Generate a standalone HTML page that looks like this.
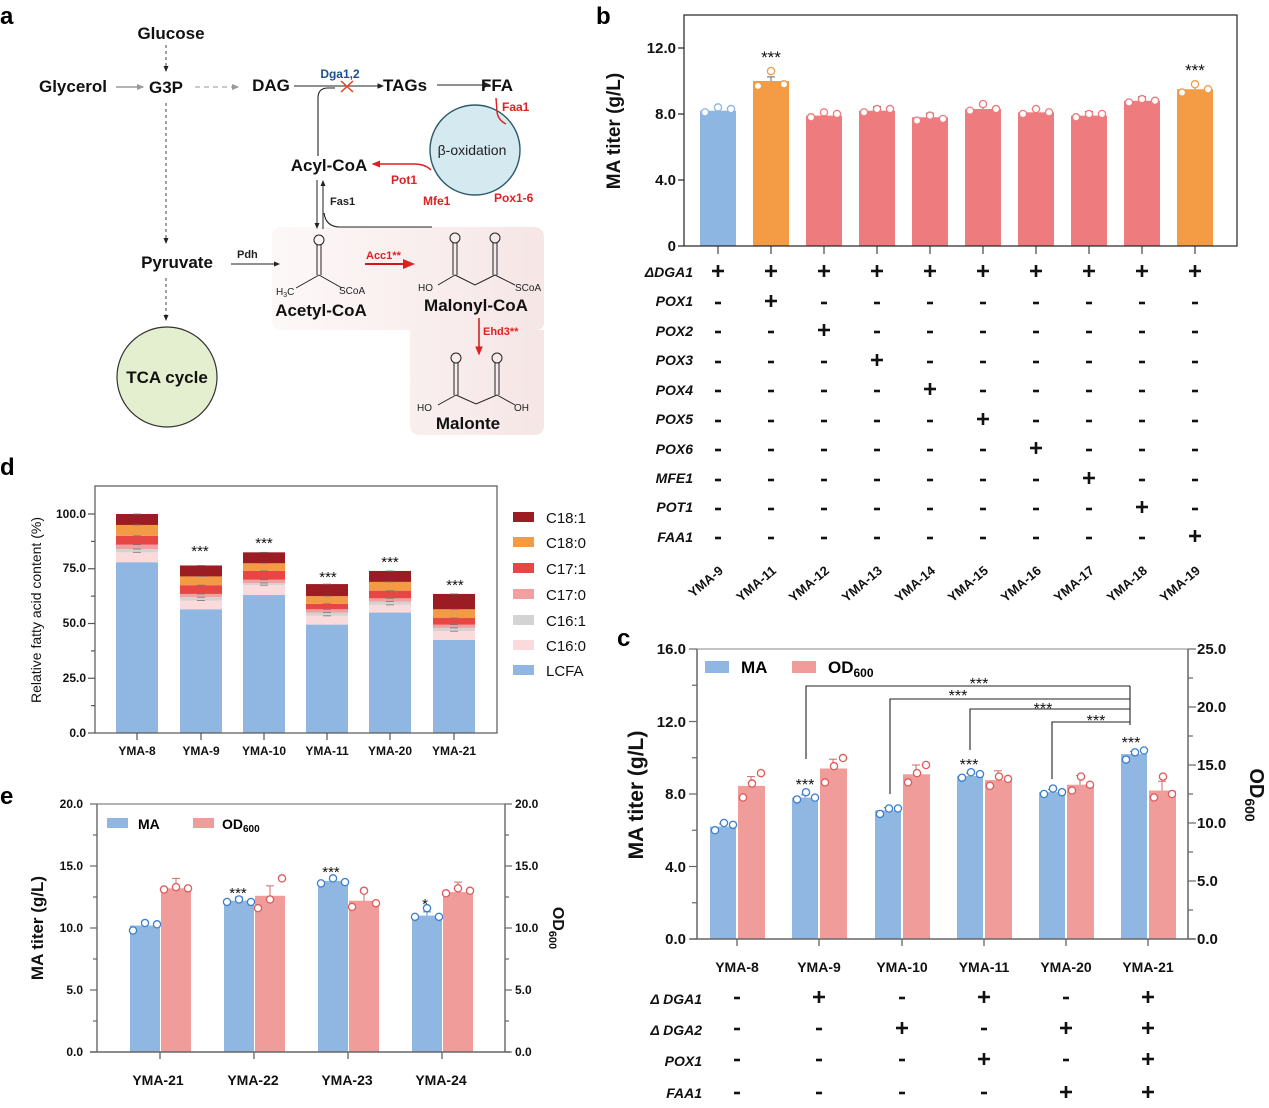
<!DOCTYPE html>
<html><head><meta charset="utf-8"><style>
body{margin:0;background:#fff}
svg{display:block;font-family:"Liberation Sans",Arial,sans-serif}
.b{font-weight:bold}
</style></head><body>
<svg id="s" width="1269" height="1108" viewBox="0 0 1269 1108" xmlns="http://www.w3.org/2000/svg">
<defs>
<marker id="ak" markerWidth="6" markerHeight="6" refX="5" refY="3" orient="auto"><path d="M0,0.5 L6,3 L0,5.5z" fill="#222"/></marker>
<marker id="ag" markerWidth="6" markerHeight="6" refX="5" refY="3" orient="auto"><path d="M0,0.5 L6,3 L0,5.5z" fill="#999"/></marker>
<marker id="ar" markerWidth="6" markerHeight="6" refX="5" refY="3" orient="auto"><path d="M0,0.5 L6,3 L0,5.5z" fill="#e02020"/></marker>
<linearGradient id="pk" x1="0" x2="1"><stop offset="0" stop-color="#fdf8f8"/><stop offset="1" stop-color="#f6e6e6"/></linearGradient>
</defs>
<g class="b" font-size="24" fill="#000">
<text x="0" y="24">a</text><text x="596" y="24">b</text><text x="617" y="646">c</text><text x="0" y="475">d</text><text x="0" y="804">e</text>
</g>

<!-- ===== Panel a ===== -->
<path d="M272,238 Q272,227 283,227 L533,227 Q544,227 544,238 L544,322 Q544,330 536,330 L544,330 L544,425 Q544,435 534,435 L420,435 Q410,435 410,425 L410,330 L283,330 Q272,330 272,320 Z" fill="url(#pk)"/>
<circle cx="167" cy="377" r="50" fill="#e3efcf" stroke="#333" stroke-width="1.2"/>
<circle cx="475" cy="150" r="45" fill="#d5e9f0" stroke="#2a5a6a" stroke-width="1.4"/>
<g class="b" font-size="17" fill="#111" text-anchor="middle">
<text x="171" y="39">Glucose</text>
<text x="73" y="92">Glycerol</text>
<text x="166" y="93">G3P</text>
<text x="271" y="91">DAG</text>
<text x="405" y="91">TAGs</text>
<text x="497" y="91">FFA</text>
<text x="329" y="171">Acyl-CoA</text>
<text x="177" y="268">Pyruvate</text>
<text x="167" y="383">TCA cycle</text>
<text x="321" y="316">Acetyl-CoA</text>
<text x="476" y="311">Malonyl-CoA</text>
<text x="468" y="429">Malonte</text>
</g>
<line x1="166" y1="45" x2="166" y2="71" stroke="#444" stroke-dasharray="3,3" marker-end="url(#ak)"/>
<line x1="116" y1="87" x2="143" y2="87" stroke="#888" stroke-width="1.2" marker-end="url(#ag)"/>
<line x1="195" y1="87" x2="238" y2="87" stroke="#aaa" stroke-width="1.2" stroke-dasharray="5,4" marker-end="url(#ag)"/>
<line x1="166" y1="103" x2="166" y2="243" stroke="#444" stroke-dasharray="3,3" marker-end="url(#ak)"/>
<line x1="166" y1="278" x2="166" y2="320" stroke="#444" stroke-dasharray="3,3" marker-end="url(#ak)"/>
<line x1="294" y1="86" x2="383" y2="86" stroke="#222" stroke-width="1.1" marker-end="url(#ak)"/>
<line x1="437" y1="85" x2="490" y2="85" stroke="#222" stroke-width="1.1" marker-end="url(#ak)"/>
<path d="M341,81 L353,92 M353,81 L341,92" stroke="#e8401c" stroke-width="1.5"/>
<text x="340" y="78" font-size="12" class="b" fill="#1d4e8f" text-anchor="middle">Dga1,2</text>
<path d="M318,156 L318,98 Q318,88 328,88 L335,88" fill="none" stroke="#222" stroke-width="1.1"/>
<text x="472" y="155" font-size="14" fill="#222" text-anchor="middle">β-oxidation</text>
<path d="M496,98 L497,112 Q498,120 506,124" fill="none" stroke="#e02020" stroke-width="1.4"/>
<text x="502" y="111" font-size="12" class="b" fill="#e02020">Faa1</text>
<path d="M431,170 Q425,164 414,164 L373,164" fill="none" stroke="#e02020" stroke-width="1.4" marker-end="url(#ar)"/>
<text x="391" y="184" font-size="12" class="b" fill="#e02020">Pot1</text>
<text x="423" y="205" font-size="12" class="b" fill="#e02020">Mfe1</text>
<text x="494" y="202" font-size="12" class="b" fill="#e02020">Pox1-6</text>
<line x1="317" y1="180" x2="317" y2="228" stroke="#222" marker-end="url(#ak)"/>
<line x1="323" y1="229" x2="323" y2="181" stroke="#222" marker-end="url(#ak)"/>
<text x="330" y="205" font-size="11" class="b" fill="#222">Fas1</text>
<path d="M324,213 Q326,227 340,227 L432,227" fill="none" stroke="#222" stroke-width="1.1"/>
<text x="237" y="258" font-size="11" class="b" fill="#222">Pdh</text>
<line x1="231" y1="264" x2="279" y2="264" stroke="#222" marker-end="url(#ak)"/>
<text x="366" y="259" font-size="11" class="b" fill="#e02020">Acc1**</text>
<line x1="365" y1="264" x2="413" y2="264" stroke="#d01818" stroke-width="2" marker-end="url(#ar)"/>
<text x="483" y="335" font-size="11" class="b" fill="#e02020">Ehd3**</text>
<line x1="479" y1="318" x2="479" y2="354" stroke="#d01818" stroke-width="1.5" marker-end="url(#ar)"/>
<g stroke="#222" stroke-width="1" fill="none">
<circle cx="319" cy="240" r="5"/>
<path d="M317,245 V275 M321,245 V275 M319,275 L296,288 M319,275 L342,288"/>
<circle cx="455" cy="238" r="5"/><circle cx="495" cy="238" r="5"/>
<path d="M453,243 V275 M457,243 V275 M493,243 V275 M497,243 V275 M455,275 L475,285 L495,275 M455,275 L438,285 M495,275 L515,285"/>
<circle cx="456" cy="358" r="5"/><circle cx="497" cy="358" r="5"/>
<path d="M454,363 V395 M458,363 V395 M495,363 V395 M499,363 V395 M456,395 L476,404 L497,395 M456,395 L438,405 M497,395 L515,405"/>
</g>
<g font-size="10" fill="#222">
<text x="276" y="295">H<tspan font-size="7" dy="2">3</tspan><tspan dy="-2">C</tspan></text>
<text x="339" y="294">SCoA</text>
<text x="418" y="291">HO</text>
<text x="515" y="291">SCoA</text>
<text x="417" y="411">HO</text>
<text x="514" y="411">OH</text>
</g>

<!-- ===== Panel b ===== -->
<g id="pb"></g>
<rect x="684" y="15" width="553" height="231" fill="none" stroke="#222" stroke-width="1.2"/>
<g class="b" font-size="15" fill="#111" text-anchor="end">
<text x="676" y="53">12.0</text><text x="676" y="119">8.0</text><text x="676" y="185">4.0</text><text x="676" y="251">0</text>
</g>
<text transform="translate(620,131) rotate(-90)" class="b" font-size="19" text-anchor="middle" fill="#111">MA titer (g/L)</text>
<g class="b" font-size="14" fill="#111" font-style="italic" text-anchor="end">
<text x="693" y="277">ΔDGA1</text><text x="693" y="306">POX1</text><text x="693" y="336">POX2</text><text x="693" y="365">POX3</text><text x="693" y="395">POX4</text><text x="693" y="424">POX5</text><text x="693" y="454">POX6</text><text x="693" y="483">MFE1</text><text x="693" y="512">POT1</text><text x="693" y="542">FAA1</text>
</g>
<g class="b" font-size="13" fill="#111" text-anchor="end">
<text transform="translate(724,572) rotate(-40)">YMA-9</text>
<text transform="translate(777,572) rotate(-40)">YMA-11</text>
<text transform="translate(830,572) rotate(-40)">YMA-12</text>
<text transform="translate(883,572) rotate(-40)">YMA-13</text>
<text transform="translate(936,572) rotate(-40)">YMA-14</text>
<text transform="translate(989,572) rotate(-40)">YMA-15</text>
<text transform="translate(1042,572) rotate(-40)">YMA-16</text>
<text transform="translate(1095,572) rotate(-40)">YMA-17</text>
<text transform="translate(1148,572) rotate(-40)">YMA-18</text>
<text transform="translate(1201,572) rotate(-40)">YMA-19</text>
</g>
<g font-size="17" fill="#111" text-anchor="middle">
<text x="771" y="63">***</text><text x="1195" y="76">***</text>
</g>

<!-- ===== Panel c ===== -->
<g id="pc"></g>
<g class="b" font-size="15" fill="#111" text-anchor="end">
<text x="686" y="654">16.0</text><text x="686" y="727">12.0</text><text x="686" y="799">8.0</text><text x="686" y="872">4.0</text><text x="686" y="944">0.0</text>
</g>
<g class="b" font-size="15" fill="#111">
<text x="1197" y="654">25.0</text><text x="1197" y="712">20.0</text><text x="1197" y="770">15.0</text><text x="1197" y="828">10.0</text><text x="1197" y="886">5.0</text><text x="1197" y="944">0.0</text>
</g>
<text transform="translate(643,795) rotate(-90)" class="b" font-size="21" text-anchor="middle" fill="#111">MA titer (g/L)</text>
<text transform="translate(1250,795) rotate(90)" class="b" font-size="20" text-anchor="middle" fill="#111">OD<tspan font-size="14" dy="5">600</tspan></text>
<rect x="705" y="661" width="24" height="12" fill="#8fb7e2"/><text x="741" y="673" class="b" font-size="17">MA</text>
<rect x="792" y="661" width="24" height="12" fill="#f09c9b"/><text x="828" y="673" class="b" font-size="17">OD<tspan font-size="12" dy="4">600</tspan></text>
<g fill="none" stroke="#222" stroke-width="1.1">
<path d="M806,759 V686 H1130 M890,794 V699 H1130 M970,750 V709 H1130 M1052,779 V722 H1130 M1130,686 V725"/>
</g>
<g font-size="16" fill="#111" text-anchor="middle">
<text x="979" y="689">***</text><text x="958" y="701">***</text><text x="1043" y="714">***</text><text x="1096" y="726">***</text>
<text x="805" y="790">***</text><text x="969" y="770">***</text><text x="1131" y="748">***</text>
</g>
<g class="b" font-size="14" fill="#111" text-anchor="middle">
<text x="737" y="972">YMA-8</text><text x="819" y="972">YMA-9</text><text x="902" y="972">YMA-10</text><text x="984" y="972">YMA-11</text><text x="1066" y="972">YMA-20</text><text x="1148" y="972">YMA-21</text>
</g>
<g class="b" font-size="14" fill="#111" font-style="italic" text-anchor="end">
<text x="702" y="1004">Δ DGA1</text><text x="702" y="1035">Δ DGA2</text><text x="702" y="1066">POX1</text><text x="702" y="1098">FAA1</text>
</g>

<!-- ===== Panel d ===== -->
<g id="pd"></g>
<rect x="95" y="486" width="402" height="247" fill="none" stroke="#555" stroke-width="1.2"/>
<g class="b" font-size="12" fill="#111" text-anchor="end">
<text x="86" y="518">100.0</text><text x="86" y="572">75.0</text><text x="86" y="627">50.0</text><text x="86" y="682">25.0</text><text x="86" y="737">0.0</text>
</g>
<text transform="translate(41,610) rotate(-90)" font-size="14" text-anchor="middle" fill="#111">Relative fatty acid content (%)</text>
<g class="b" font-size="12" fill="#111" text-anchor="middle">
<text x="137" y="755">YMA-8</text><text x="201" y="755">YMA-9</text><text x="264" y="755">YMA-10</text><text x="327" y="755">YMA-11</text><text x="390" y="755">YMA-20</text><text x="454" y="755">YMA-21</text>
</g>
<g font-size="15" fill="#111" text-anchor="middle">
<text x="200" y="556">***</text><text x="264" y="548">***</text><text x="328" y="582">***</text><text x="390" y="567">***</text><text x="455" y="590">***</text>
</g>
<g font-size="15" fill="#111">
<rect x="513" y="512" width="21" height="10" fill="#9b1c22"/><text x="546" y="523">C18:1</text>
<rect x="513" y="537" width="21" height="10" fill="#f39a45"/><text x="546" y="548">C18:0</text>
<rect x="513" y="563" width="21" height="10" fill="#e84545"/><text x="546" y="574">C17:1</text>
<rect x="513" y="589" width="21" height="10" fill="#f0a0a0"/><text x="546" y="600">C17:0</text>
<rect x="513" y="615" width="21" height="10" fill="#d3d3d3"/><text x="546" y="626">C16:1</text>
<rect x="513" y="640" width="21" height="10" fill="#fadadb"/><text x="546" y="651">C16:0</text>
<rect x="513" y="665" width="21" height="10" fill="#8fb7e2"/><text x="546" y="676">LCFA</text>
</g>

<!-- ===== Panel e ===== -->
<g id="pe"></g>
<g class="b" font-size="12" fill="#111" text-anchor="end">
<text x="83" y="808">20.0</text><text x="83" y="870">15.0</text><text x="83" y="932">10.0</text><text x="83" y="994">5.0</text><text x="83" y="1056">0.0</text>
</g>
<g class="b" font-size="12" fill="#111">
<text x="515" y="808">20.0</text><text x="515" y="870">15.0</text><text x="515" y="932">10.0</text><text x="515" y="994">5.0</text><text x="515" y="1056">0.0</text>
</g>
<text transform="translate(43,928) rotate(-90)" class="b" font-size="17" text-anchor="middle" fill="#111">MA titer (g/L)</text>
<text transform="translate(553,928) rotate(90)" class="b" font-size="16" text-anchor="middle" fill="#111">OD<tspan font-size="11" dy="4">600</tspan></text>
<rect x="107" y="818" width="21" height="10" fill="#8fb7e2"/><text x="138" y="829" class="b" font-size="14">MA</text>
<rect x="193" y="818" width="21" height="10" fill="#f09c9b"/><text x="222" y="829" class="b" font-size="14">OD<tspan font-size="10" dy="3">600</tspan></text>
<g class="b" font-size="14" fill="#111" text-anchor="middle">
<text x="158" y="1085">YMA-21</text><text x="253" y="1085">YMA-22</text><text x="347" y="1085">YMA-23</text><text x="441" y="1085">YMA-24</text>
</g>
<g font-size="15" fill="#111" text-anchor="middle">
<text x="238" y="898">***</text><text x="331" y="877">***</text><text x="425" y="909">*</text>
</g>
</svg>
<script>
var NS="http://www.w3.org/2000/svg";
function el(g,t,a){var e=document.createElementNS(NS,t);for(var k in a)e.setAttribute(k,a[k]);document.getElementById(g).appendChild(e);return e;}
function ln(g,x1,y1,x2,y2,c,w){el(g,"line",{x1:x1,y1:y1,x2:x2,y2:y2,stroke:c||"#555","stroke-width":w||1.2});}
function dot(g,x,y,c){el(g,"circle",{cx:x,cy:y,r:3.6,fill:"#fff",stroke:c,"stroke-width":1.3});}
function bar(g,x,w,y0,y1,c){el(g,"rect",{x:x,y:Math.min(y0,y1),width:w,height:Math.abs(y1-y0),fill:c});}
function errb(g,x,y,y2,c){ln(g,x,y,x,y2,c||"#555",1);ln(g,x-4,y2,x+4,y2,c||"#555",1);}
(function(){var yb=function(v){return 246-16.5*v};
var vals=[8.2,10.0,7.9,8.2,7.8,8.3,8.1,7.9,8.8,9.5];
var cols=["#8db6e2","#f39c45","#ee7b7d","#ee7b7d","#ee7b7d","#ee7b7d","#ee7b7d","#ee7b7d","#ee7b7d","#f39c45"];
var pts=[[8.1,8.4,8.3],[9.7,10.6,9.8],[7.8,8.1,8.0],[8.1,8.3,8.3],[7.6,7.9,7.7],[8.2,8.6,8.3],[8.0,8.3,8.1],[7.8,8.0,8.0],[8.7,8.9,8.8],[9.3,9.8,9.5]];
for(var i=0;i<10;i++){var cx=718+53*i;bar("pb",cx-18,36,yb(0),yb(vals[i]),cols[i]);
errb("pb",cx,yb(vals[i]),yb(vals[i]+0.25),"#666");
for(var j=0;j<3;j++)dot("pb",cx-13+13*j,yb(pts[i][j]),cols[i]);
ln("pb",cx,246,cx,254,"#444",1.2);
var r=[1,i==1,i==2,i==3,i==4,i==5,i==6,i==7,i==8,i==9];var ys=[271,301,330,360,389,419,448,478,507,536];
for(var k=0;k<10;k++){if(r[k]){ln("pb",cx-6,ys[k],cx+6,ys[k],"#111",2.6);ln("pb",cx,ys[k]-6,cx,ys[k]+6,"#111",2.6);}else ln("pb",cx-3,ys[k]+2,cx+3,ys[k]+2,"#111",2.6);}}
[48,114,180,246].forEach(function(y){ln("pb",678,y,684,y,"#222",1.2)});
})();
(function(){var yl=function(v){return 939-18.125*v},yr=function(v){return 939-11.6*v};
var cs=[737,819,902,984,1066,1148];var ma=[6.2,7.8,7.1,9.0,8.1,10.2],od=[13.2,14.7,14.2,13.7,13.3,12.8];
var mp=[[6.0,6.4,6.3],[7.7,8.1,7.8],[6.9,7.2,7.2],[8.9,9.2,9.1],[8.0,8.3,8.1],[9.9,10.3,10.4]];
var op=[[12.2,13.4,14.3],[13.5,14.9,15.6],[13.5,14.3,15.0],[13.2,14.0,13.8],[12.8,14.0,13.3],[12.2,14.0,12.5]];
var sig=[[0,0,0,0],[1,0,0,0],[0,1,0,0],[1,0,1,0],[0,1,0,1],[1,1,1,1]];
for(var i=0;i<6;i++){var c=cs[i];bar("pc",c-27,26,yl(0),yl(ma[i]),"#8fb7e2");bar("pc",c+1,27,yl(0),yr(od[i]),"#f09c9b");
errb("pc",c-14,yl(ma[i]),yl(ma[i]+0.15),"#5a86c0");errb("pc",c+14,yr(od[i]),yr(od[i]+0.8),"#d06a6a");
for(var j=0;j<3;j++){dot("pc",c-22+9*j,yl(mp[i][j]),"#3b7fd0");dot("pc",c+6+9*j,yr(op[i][j]),"#e05a5a");}
ln("pc",c,939,c,946,"#555",1.2);
var ys=[997,1028,1059,1092];for(var k=0;k<4;k++){if(sig[i][k]){ln("pc",c-6,ys[k],c+6,ys[k],"#111",2.6);ln("pc",c,ys[k]-6,c,ys[k]+6,"#111",2.6);}else ln("pc",c-3,ys[k]+1,c+3,ys[k]+1,"#111",2.6);}}
ln("pc",697,649,1188,649,"#888",1);ln("pc",697,649,697,939,"#666",1.5);ln("pc",1188,649,1188,939,"#666",1.5);ln("pc",690,939,1195,939,"#666",1.5);
for(var v=0;v<=16;v+=2)ln("pc",v%4?692:689,yl(v),697,yl(v),"#666",1.2);
for(var v=0;v<=25;v+=2.5)ln("pc",1188,yr(v),v%5?1193:1196,yr(v),"#666",1.2);
})();
(function(){var y=function(p){return 733-2.19*p};var cs=[137,201,264,327,390,454];
var cols=["#8fb7e2","#fadadb","#d3d3d3","#f0a0a0","#e84545","#f39a45","#9b1c22"];
var d=[[78,82.5,84,86,90,95,100],[56.5,60.5,62,63.5,67.5,71.5,76.5],[63,67.5,68.5,70,74,77.5,82.5],[49.5,53.5,55,56.5,59,62.5,68],[55,58.5,60,61.5,65,69,74],[42.5,46.5,48,49.5,52.5,56.5,63.5]];
for(var i=0;i<6;i++){var c=cs[i],prev=0;for(var k=0;k<7;k++){bar("pd",c-21,42,y(prev),y(d[i][k]),cols[k]);prev=d[i][k];}
for(var k=1;k<7;k++){var yy=y(d[i][k]);ln("pd",c-4,yy,c+4,yy,"#777",0.8);}
ln("pd",c,733,c,740,"#555",1.2);}
for(var p=0;p<=100;p+=12.5)ln("pd",p%25?91:88,y(p),95,y(p),"#555",1.2);
})();
(function(){var y=function(v){return 1052-12.4*v};var cs=[160,254,348,442];
var ma=[10.2,12.2,13.8,11.0],od=[13.2,12.6,12.2,12.9];
var mp=[[9.8,10.4,10.3],[12.1,12.3,12.1],[13.6,14.0,13.7],[10.9,11.6,10.9]];
var op=[[13.1,13.3,13.2],[11.6,12.3,14.0],[11.7,13.0,12.0],[12.8,13.2,13.0]];
for(var i=0;i<4;i++){var c=cs[i];bar("pe",c-30,30,y(0),y(ma[i]),"#8fb7e2");bar("pe",c+1,30,y(0),y(od[i]),"#f09c9b");
errb("pe",c-15,y(ma[i]),y(ma[i]+0.3),"#5a86c0");errb("pe",c+16,y(od[i]),y(od[i]+0.8),"#d06a6a");
for(var j=0;j<3;j++){dot("pe",c-27+12*j,y(mp[i][j]),"#3b7fd0");dot("pe",c+4+12*j,y(op[i][j]),"#e05a5a");}
ln("pe",c,1052,c,1059,"#555",1.2);}
ln("pe",97,804,505,804,"#666",1);ln("pe",97,804,97,1052,"#666",1.4);ln("pe",505,804,505,1052,"#666",1.4);ln("pe",90,1052,510,1052,"#666",1.4);
for(var v=0;v<=20;v+=2.5){ln("pe",v%5?93:90,y(v),97,y(v),"#666",1.2);ln("pe",505,y(v),v%5?509:512,y(v),"#666",1.2);}
})();
</script>
</body></html>
